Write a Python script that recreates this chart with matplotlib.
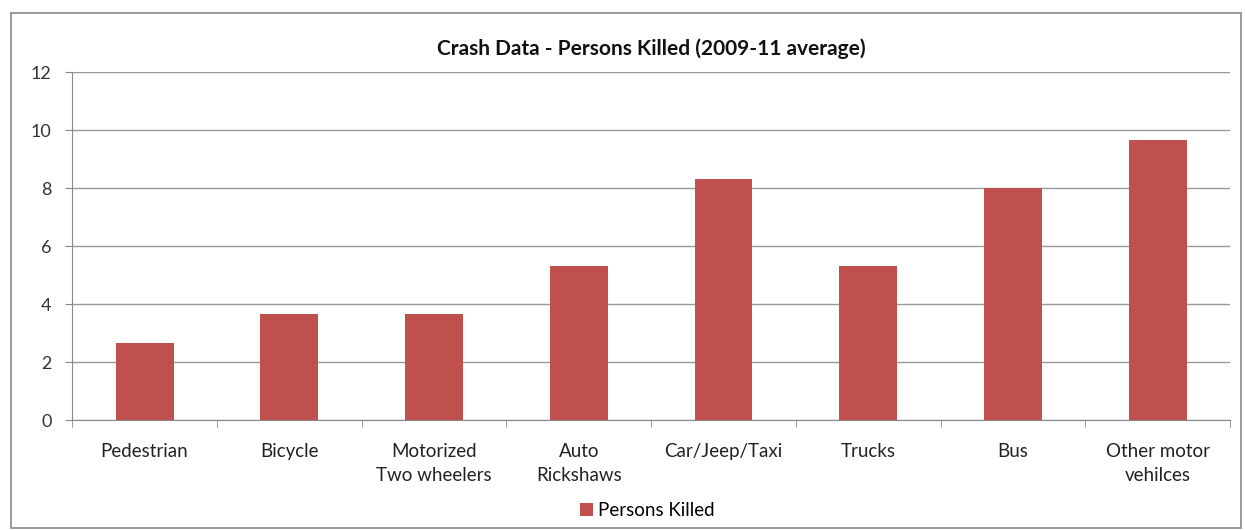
import matplotlib.pyplot as plt
from matplotlib.patches import Rectangle

categories = ["Pedestrian", "Bicycle", "Motorized\nTwo wheelers", "Auto\nRickshaws",
              "Car/Jeep/Taxi", "Trucks", "Bus", "Other motor\nvehilces"]
persons_killed = [2.67, 3.67, 3.67, 5.33, 8.33, 5.33, 8.0, 9.67]
yticks = [0, 2, 4, 6, 8, 10, 12]

plt.rcParams["font.family"] = ["Lato", "DejaVu Sans"]

fig = plt.figure(figsize=(12.45, 5.3), dpi=100)
fig.patches.append(Rectangle((0.009, 0.004), 0.988, 0.972, transform=fig.transFigure,
                             fill=False, edgecolor="#888888", linewidth=1.2))
ax = fig.add_axes([0.058, 0.207, 0.93, 0.657])

x = range(len(categories))
ax.bar(x, persons_killed, width=0.4, color="#C0504D", label="Persons Killed", zorder=3)

ax.set_xlim(-0.5, len(categories) - 0.5)
ax.set_ylim(0, 12)
ax.set_yticks(yticks)
ax.set_yticklabels([str(v) for v in yticks], fontsize=13, color="#333333")
ax.yaxis.grid(True, color="#999999", linewidth=1, zorder=0)

ax.set_xticks(list(x))
ax.set_xticklabels(categories, fontsize=13.5, color="#222222", linespacing=1.55)
ax.tick_params(axis="x", length=0, pad=16)
ax.set_xticks([i + 0.5 for i in range(-1, len(categories))], minor=True)
ax.tick_params(axis="x", which="minor", length=5, color="#888888")
ax.tick_params(axis="y", length=5, color="#888888", pad=10)

for s in ["top", "right"]:
    ax.spines[s].set_visible(False)
for s in ["left", "bottom"]:
    ax.spines[s].set_color("#888888")

ax.set_title("Crash Data - Persons Killed (2009-11 average)", fontsize=15,
             fontweight="bold", color="#111111", pad=12)

fig.legend(loc="lower center", bbox_to_anchor=(0.52, -0.012), frameon=False,
           fontsize=13.5, handlelength=0.7, handleheight=0.7, handletextpad=0.3)

fig.savefig("out.png", dpi=100, facecolor="white")
